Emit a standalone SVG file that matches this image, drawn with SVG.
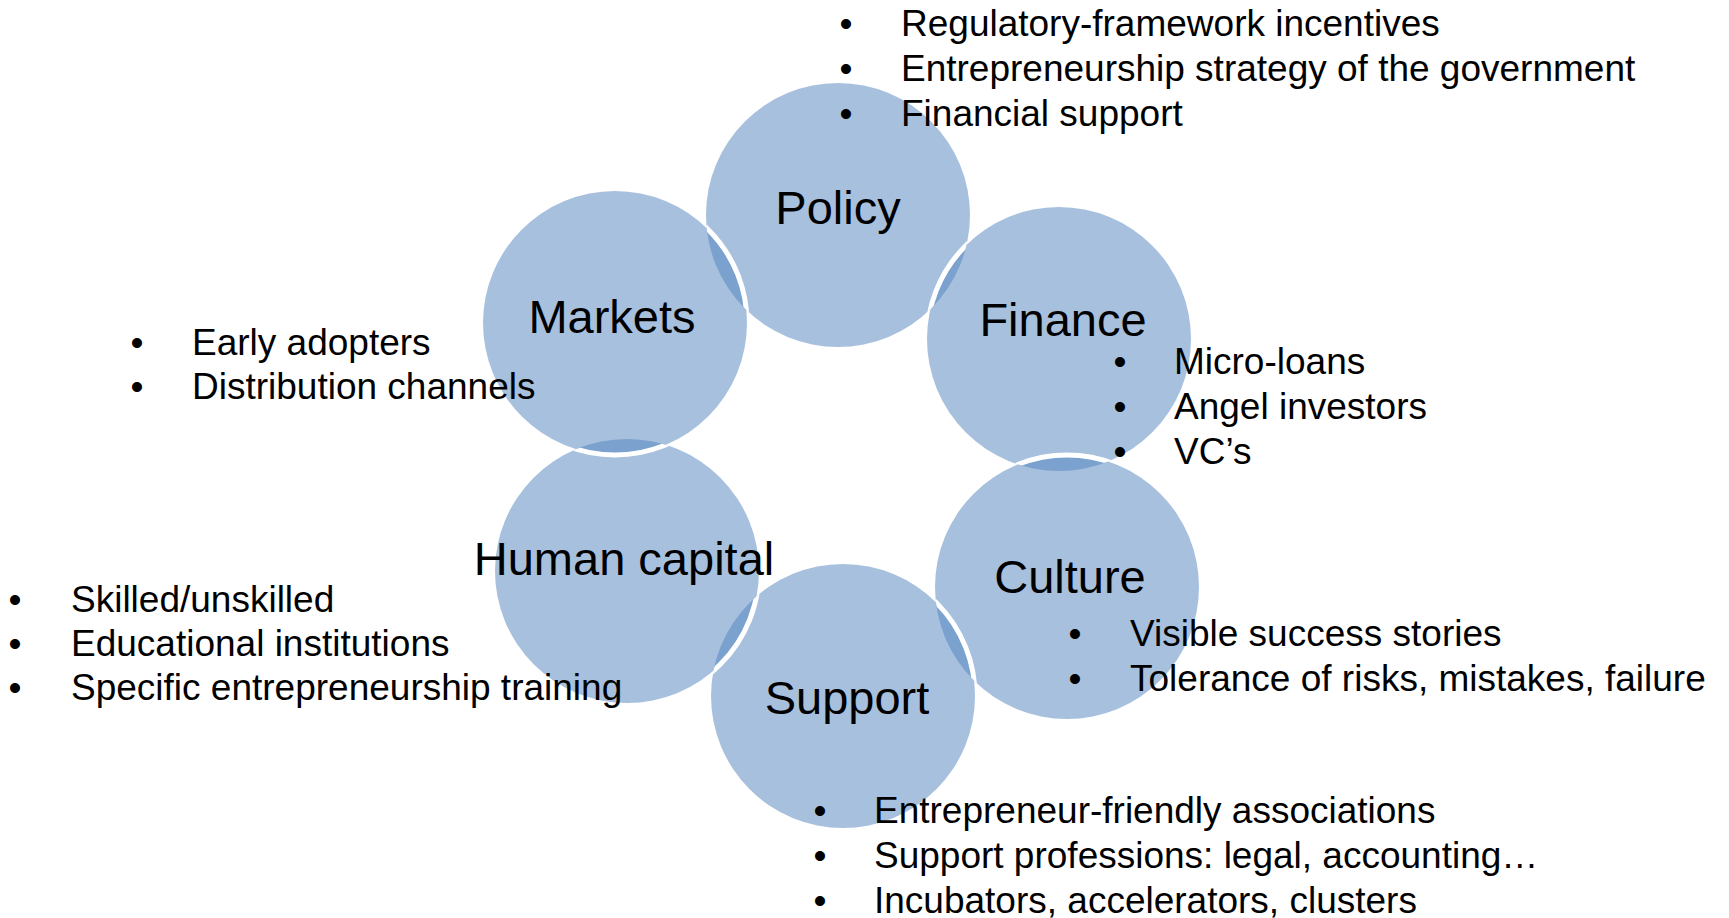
<svg xmlns="http://www.w3.org/2000/svg" xmlns:xlink="http://www.w3.org/1999/xlink" width="1729" height="918" viewBox="0 0 1729 918">
  <style>
    .disc { fill: #4F81BD; fill-opacity: 0.5; stroke: none; }
    .rim { fill: none; stroke: #FFFFFF; stroke-width: 5; }
    .label { font-family: "Liberation Sans", Arial, sans-serif; font-size: 47px; fill: #000000; text-anchor: middle; }
    .item { font-family: "Liberation Sans", Arial, sans-serif; font-size: 37px; fill: #000000; }
    .dot { font-family: "Liberation Sans", Arial, sans-serif; font-size: 37px; fill: #000000; text-anchor: middle; }
  </style>
  <defs>
    <circle id="cPolicy" cx="838" cy="215" r="132"/>
    <circle id="cFinance" cx="1059" cy="339" r="132"/>
    <circle id="cCulture" cx="1067" cy="587" r="132"/>
    <circle id="cSupport" cx="843" cy="696" r="132"/>
    <circle id="cHuman" cx="627" cy="571" r="132"/>
    <circle id="cMarkets" cx="615" cy="323" r="132"/>
    <clipPath id="inPolicy"><use xlink:href="#cPolicy"/></clipPath>
    <clipPath id="inFinance"><use xlink:href="#cFinance"/></clipPath>
    <clipPath id="inCulture"><use xlink:href="#cCulture"/></clipPath>
    <clipPath id="inSupport"><use xlink:href="#cSupport"/></clipPath>
    <clipPath id="inHuman"><use xlink:href="#cHuman"/></clipPath>
  </defs>
  <rect x="0" y="0" width="1729" height="918" fill="#FFFFFF"/>

  <g id="node-policy">
    <use xlink:href="#cPolicy" class="disc"/>
    <text class="label" x="838" y="224">Policy</text>
    <text class="dot" x="846" y="36">•</text>
    <text class="item" x="901" y="36">Regulatory-framework incentives</text>
    <text class="dot" x="846" y="81">•</text>
    <text class="item" x="901" y="81">Entrepreneurship strategy of the government</text>
    <text class="dot" x="846" y="126">•</text>
    <text class="item" x="901" y="126">Financial support</text>
  </g>

  <g id="node-finance">
    <use xlink:href="#cFinance" class="disc"/>
    <use xlink:href="#cFinance" class="rim" clip-path="url(#inPolicy)"/>
    <text class="label" x="1063" y="336">Finance</text>
    <text class="dot" x="1120" y="374">•</text>
    <text class="item" x="1174" y="374">Micro-loans</text>
    <text class="dot" x="1120" y="419">•</text>
    <text class="item" x="1174" y="419">Angel investors</text>
    <text class="dot" x="1120" y="464">•</text>
    <text class="item" x="1174" y="464">VC’s</text>
  </g>

  <g id="node-culture">
    <use xlink:href="#cCulture" class="disc"/>
    <use xlink:href="#cCulture" class="rim" clip-path="url(#inFinance)"/>
    <text class="label" x="1070" y="593">Culture</text>
    <text class="dot" x="1075" y="646">•</text>
    <text class="item" x="1130" y="646">Visible success stories</text>
    <text class="dot" x="1075" y="691">•</text>
    <text class="item" x="1130" y="691">Tolerance of risks, mistakes, failure</text>
  </g>

  <g id="node-support">
    <use xlink:href="#cSupport" class="disc"/>
    <use xlink:href="#cSupport" class="rim" clip-path="url(#inCulture)"/>
    <text class="label" x="847" y="714">Support</text>
    <text class="dot" x="820" y="823">•</text>
    <text class="item" x="874" y="823">Entrepreneur-friendly associations</text>
    <text class="dot" x="820" y="868">•</text>
    <text class="item" x="874" y="868">Support professions: legal, accounting…</text>
    <text class="dot" x="820" y="913">•</text>
    <text class="item" x="874" y="913">Incubators, accelerators, clusters</text>
  </g>

  <g id="node-human-capital">
    <use xlink:href="#cHuman" class="disc"/>
    <use xlink:href="#cHuman" class="rim" clip-path="url(#inSupport)"/>
    <text class="label" x="624" y="575">Human capital</text>
    <text class="dot" x="15" y="612">•</text>
    <text class="item" x="71" y="612">Skilled/unskilled</text>
    <text class="dot" x="15" y="656">•</text>
    <text class="item" x="71" y="656">Educational institutions</text>
    <text class="dot" x="15" y="700">•</text>
    <text class="item" x="71" y="700">Specific entrepreneurship training</text>
  </g>

  <g id="node-markets">
    <use xlink:href="#cMarkets" class="disc"/>
    <use xlink:href="#cMarkets" class="rim" clip-path="url(#inHuman)"/>
    <use xlink:href="#cMarkets" class="rim" clip-path="url(#inPolicy)"/>
    <text class="label" x="612" y="333">Markets</text>
    <text class="dot" x="137" y="355">•</text>
    <text class="item" x="192" y="355">Early adopters</text>
    <text class="dot" x="137" y="399">•</text>
    <text class="item" x="192" y="399">Distribution channels</text>
  </g>
</svg>
